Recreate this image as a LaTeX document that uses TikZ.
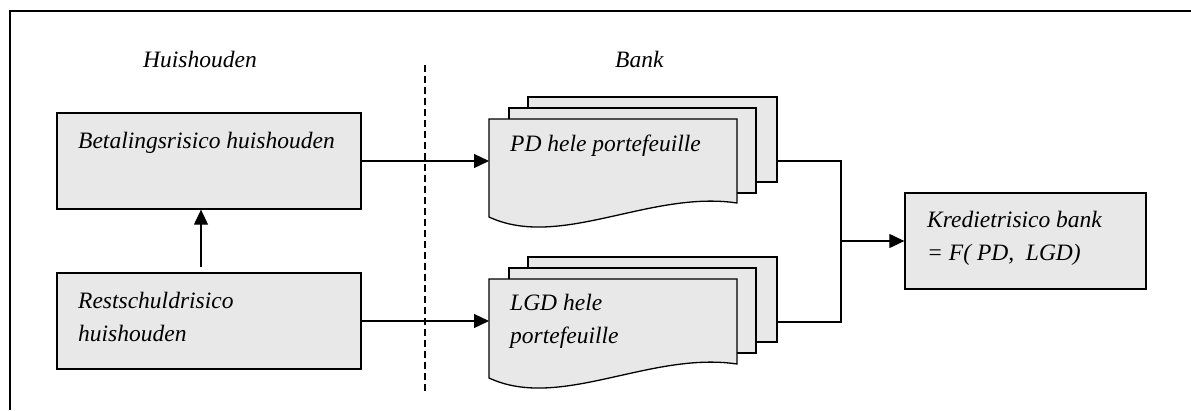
\documentclass[tikz,border=0pt]{standalone}
\usepackage{fontspec}
\setmainfont{Liberation Serif}
\usetikzlibrary{arrows.meta}
\definecolor{boxgray}{RGB}{232,232,232}
\tikzset{
  box/.style={draw=black, line width=1.3pt, fill=boxgray, rectangle, inner sep=0pt},
  sheet/.style={draw=black, line width=1.3pt, fill=boxgray, line join=miter},
  txt/.style={anchor=base west, inner sep=0pt, font=\fontsize{23.5}{33}\selectfont\itshape, align=left},
  conn/.style={line width=1.2pt},
  arr/.style={line width=1.2pt, -{Triangle[length=15pt,width=14pt]}},
}
\begin{document}
\begin{tikzpicture}[x=1pt,y=-1pt]
\useasboundingbox (0,0) rectangle (1191,410);
% frame
\draw[line width=2pt] (10,410) -- (10,11) -- (1191,11);
% headings
\node[txt] (hh) at (143,67) {Huishouden};
\node[txt] (bk) at (615,67) {Bank};
% dashed separator
\coordinate (dtop) at (425,65);
\coordinate (dbot) at (425,393);
\draw[line width=1.2pt, dash pattern=on 7pt off 4pt] (dtop) -- (dbot);
% household boxes
\node[box, minimum width=304pt, minimum height=96pt] (bet) at (209,161) {};
\node[txt] (bett) at (78,148) {Betalingsrisico huishouden};
\node[box, minimum width=304pt, minimum height=96pt] (rest) at (209,321) {};
\node[txt] (restt) at (78,341) {Restschuldrisico\\huishouden};
% PD document stack
\draw[sheet] (528,97) rectangle (777,182);
\draw[sheet] (509,108) rectangle (756,193);
\draw[sheet] (489,119) -- (737,119) -- (737,203) .. controls (650,190) and (560,250) .. (489,217) -- cycle;
\node[txt] (pdt) at (510,151) {PD hele portefeuille};
\coordinate (pdin) at (489,161);
\coordinate (pdout) at (777,161);
% LGD document stack
\draw[sheet] (528,257) rectangle (777,342);
\draw[sheet] (509,268) rectangle (756,353);
\draw[sheet] (489,279) -- (737,279) -- (737,364) .. controls (650,351) and (560,411) .. (489,378) -- cycle;
\node[txt] (lgdt) at (510,343) {LGD hele\\portefeuille};
\coordinate (lgdin) at (489,321);
\coordinate (lgdout) at (777,322);
% credit risk box
\node[box, minimum width=241pt, minimum height=96pt] (kred) at (1025.5,241) {};
\node[txt] (kredt) at (927,260) {Kredietrisico bank\\= F( PD,\ \ LGD)};
% connectors
\draw[arr, shorten <=5pt] ([xshift=-8pt]rest.north) -- ([xshift=-8pt]bet.south);
\draw[arr] (bet.east) -- (pdin);
\draw[arr] (rest.east) -- (lgdin);
\coordinate (jt) at (841,161);
\coordinate (jb) at (841,322);
\coordinate (jm) at (841,241);
\draw[conn] (pdout) -- (jt) -- (jb) -- (lgdout);
\draw[arr] (jm) -- (kred.west);
\end{tikzpicture}
\end{document}
